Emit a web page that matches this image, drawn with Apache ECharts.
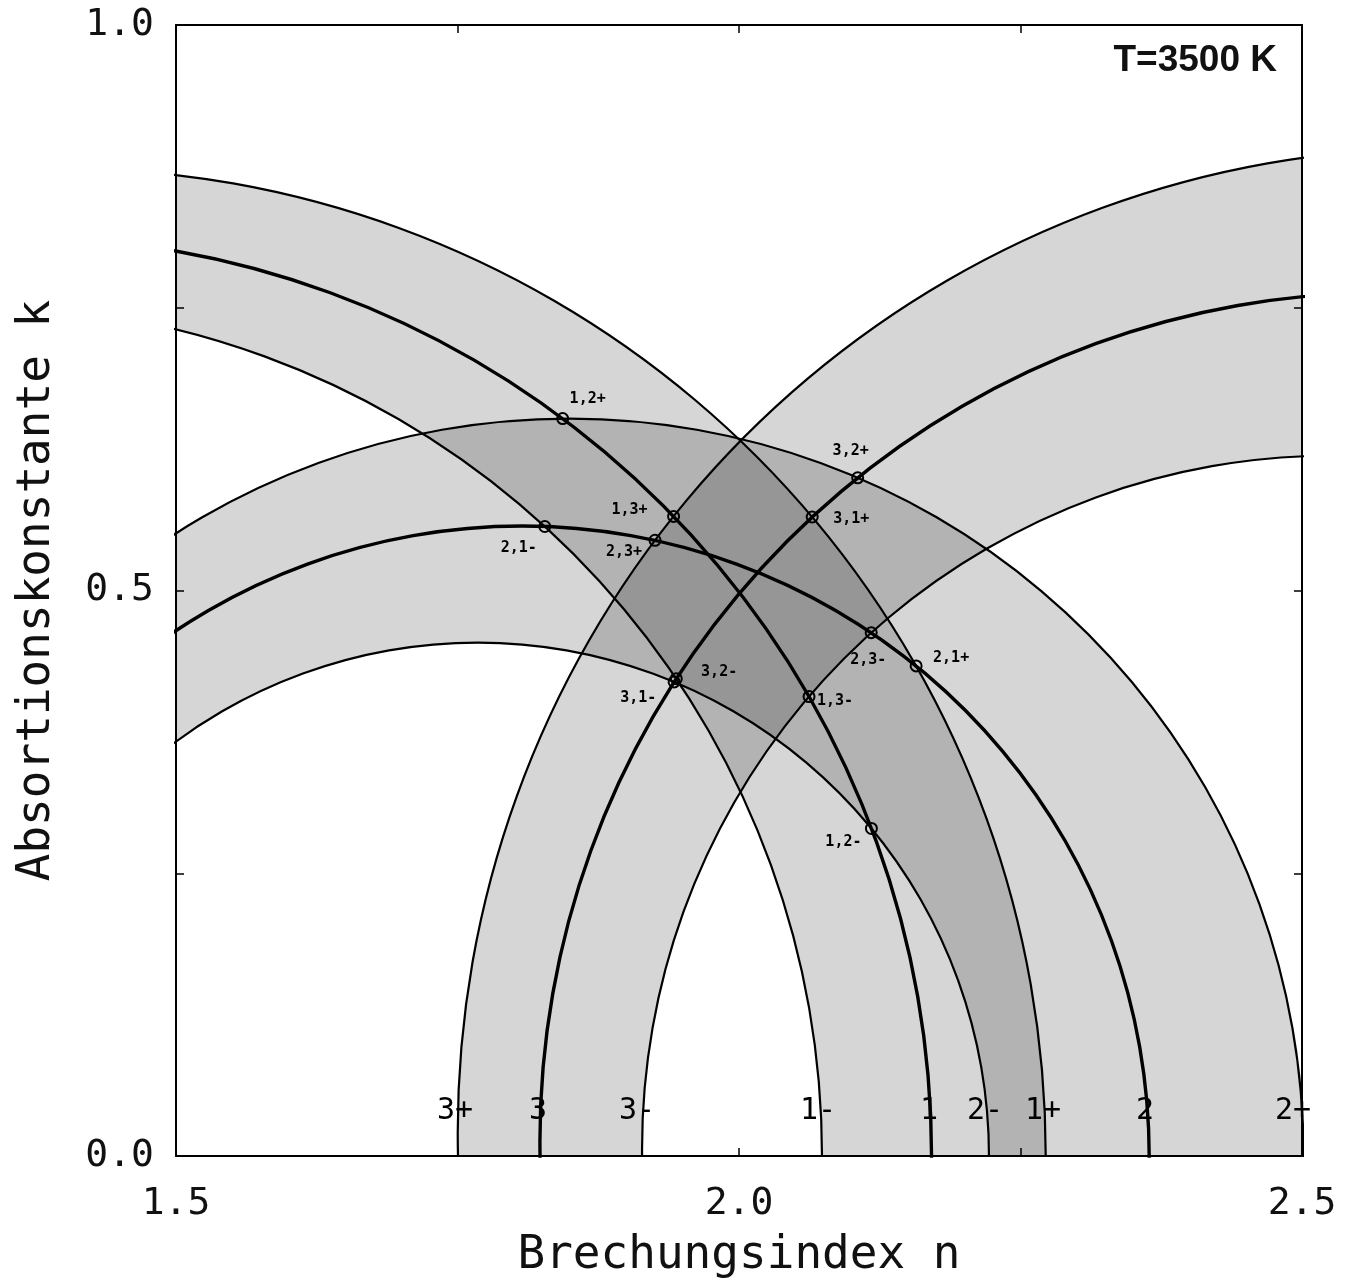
<!DOCTYPE html>
<html><head><meta charset="utf-8">
<script src="https://cdn.jsdelivr.net/npm/echarts/dist/echarts.min.js"></script>
<style>html,body{margin:0;padding:0;background:#fff}#c{width:1352px;height:1284px}</style>
</head><body><div id="c"></div>
<script>
// ---- curves: [n, k] points ----
const curve1m = [[2.0623,-0.1307],[2.0737,0],[2.0623,0.1307],[2.0283,0.2573],[1.9729,0.3762],[1.8977,0.4836],[1.8049,0.5764],[1.6975,0.6516],[1.5786,0.7070],[1.4520,0.7410],[1.3213,0.7524],[1.1906,0.7410]];
const curve1  = [[2.1587,-0.1411],[2.1710,0],[2.1587,0.1411],[2.1220,0.2779],[2.0622,0.4063],[1.9809,0.5223],[1.8808,0.6224],[1.7648,0.7037],[1.6364,0.7635],[1.4996,0.8002],[1.3585,0.8125],[1.2174,0.8002]];
const curve1p = [[2.2591,-0.1516],[2.2724,0],[2.2591,0.1516],[2.2197,0.2987],[2.1554,0.4366],[2.0681,0.5613],[1.9605,0.6689],[1.8358,0.7562],[1.6979,0.8205],[1.5508,0.8599],[1.3992,0.8732],[1.2476,0.8599]];

const curve2m = [[2.2151,-0.0788],[2.2220,0],[2.2151,0.0788],[2.1946,0.1553],[2.1612,0.2270],[2.1158,0.2918],[2.0598,0.3478],[1.9950,0.3932],[1.9233,0.4266],[1.8468,0.4471],[1.7680,0.4540],[1.6892,0.4471],[1.6127,0.4266],[1.5410,0.3932],[1.4762,0.3478],[1.4202,0.2918],[1.3748,0.2270]];
const curve2  = [[2.3558,-0.0967],[2.3643,0],[2.3558,0.0967],[2.3307,0.1905],[2.2897,0.2785],[2.2340,0.3580],[2.1653,0.4267],[2.0858,0.4824],[1.9978,0.5234],[1.9040,0.5485],[1.8073,0.5570],[1.7106,0.5485],[1.6168,0.5234],[1.5288,0.4824],[1.4493,0.4267],[1.3806,0.3580],[1.3249,0.2785]];
const curve2p = [[2.4915,-0.1132],[2.5014,0],[2.4915,0.1132],[2.4621,0.2230],[2.4141,0.3260],[2.3489,0.4191],[2.2685,0.4995],[2.1755,0.5647],[2.0724,0.6127],[1.9626,0.6421],[1.8494,0.6520],[1.7362,0.6421],[1.6264,0.6127],[1.5233,0.5647],[1.4303,0.4995],[1.3499,0.4191],[1.2847,0.3260]];

const curve3m = [[1.9508,-0.2028],[1.9232,-0.0997],[1.9139,0.0067],[1.9232,0.1131],[1.9508,0.2162],[1.9960,0.3130],[2.0572,0.4004],[2.1327,0.4759],[2.2202,0.5371],[2.3169,0.5823],[2.4200,0.6099],[2.5264,0.6192],[2.6328,0.6099]];
const curve3  = [[1.8684,-0.2431],[1.8346,-0.1168],[1.8232,0.0134],[1.8346,0.1436],[1.8684,0.2699],[1.9237,0.3884],[1.9987,0.4955],[2.0911,0.5879],[2.1982,0.6629],[2.3167,0.7182],[2.4430,0.7520],[2.5732,0.7634],[2.7034,0.7520]];
const curve3p = [[1.8027,-0.2769],[1.7634,-0.1304],[1.7502,0.0207],[1.7634,0.1718],[1.8027,0.3183],[1.8668,0.4558],[1.9538,0.5801],[2.0610,0.6873],[2.1853,0.7743],[2.3228,0.8384],[2.4693,0.8777],[2.6204,0.8909],[2.7715,0.8777]];

// intersection points
const pointNames = ['1,2+','1,3+','2,1-','2,3+','3,2+','3,1+','2,3-','2,1+','3,2-','3,1-','1,3-','1,2-'];
const pointN = [1.8434,1.9419,1.8275,1.9254,2.1054,2.0650,2.1174,2.1573,1.9424,1.9443,2.0622,2.1176];
const pointK = [0.6520,0.5655,0.5566,0.5444,0.5996,0.5650,0.4627,0.4333,0.4192,0.4220,0.4062,0.2896];

// curve labels near the n axis
const curveLabels = ['3+','3','3-','1-','1','2-','1+','2','2+'];
const curveLabelN = [1.7478,1.8215,1.9094,2.0702,2.1687,2.2185,2.2700,2.3606,2.4920];
const curveLabelK = 0.04;

const xTicks = [1.5, 2.0, 2.5];
const yTicks = [0.0, 0.5, 1.0];

// ---- styling (kept separate from data) ----
const labelOffsets = {
  '1,2+':[25,-19],'1,3+':[-44,-6],'2,1-':[-26,22],'2,3+':[-31,12],'3,2+':[-7,-27],'3,1+':[39,2],
  '2,3-':[-3,27],'2,1+':[35,-8],'3,2-':[45,-10],'3,1-':[-38,19],'1,3-':[26,5],'1,2-':[-28,14]
};
const MONO = 'DejaVu Sans Mono';
const bands = [
  {upper: curve1p, lower: curve1m},
  {upper: curve2p, lower: curve2m},
  {upper: curve3p, lower: curve3m}
];
const lines = [
  [curve1m,2.2],[curve1,3.4],[curve1p,2.2],
  [curve2m,2.2],[curve2,3.4],[curve2p,2.2],
  [curve3m,2.2],[curve3,3.4],[curve3p,2.2]
];
const SMOOTH = 0.335;

function tickFmt(list){
  return function(v){
    for (const t of list) if (Math.abs(v - t) < 1e-6) return t.toFixed(1);
    return '';
  };
}

const chart = echarts.init(document.getElementById('c'), null, {renderer:'canvas'});

const series = [];
series.push({
  type:'custom', coordinateSystem:'cartesian2d', silent:true, z:1,
  data: bands.map(() => [2.0, 0.5]),
  renderItem: function(params, api){
    const b = bands[params.dataIndex];
    const pts = b.upper.concat(b.lower.slice().reverse()).map(p => api.coord(p));
    const cs = params.coordSys;
    return {
      type:'group',
      clipPath:{type:'rect', shape:{x:cs.x, y:cs.y, width:cs.width, height:cs.height}},
      children:[{type:'polygon', shape:{points:pts, smooth:SMOOTH}, style:{fill:'rgba(0,0,0,0.16)', stroke:null}}]
    };
  }
});
lines.forEach(([d,w]) => {
  series.push({type:'line', data:d, smooth:SMOOTH, symbol:'none', clip:true, silent:true, z:3,
    lineStyle:{color:'#000', width:w}});
});
series.push({
  type:'scatter', z:5, silent:true,
  data: pointNames.map((nm,i) => ({name:nm, value:[pointN[i], pointK[i]], label:{offset:labelOffsets[nm]}})),
  symbol:'circle', symbolSize:11,
  itemStyle:{color:'rgba(0,0,0,0)', borderColor:'#000', borderWidth:2, opacity:1},
  label:{show:true, formatter:'{b}', position:'inside', fontFamily:MONO, fontSize:15, fontWeight:'bold', color:'#000'}
});
series.push({
  type:'scatter', z:6, silent:true,
  data: curveLabels.map((nm,i) => ({name:nm, value:[curveLabelN[i], curveLabelK]})),
  symbolSize:0,
  itemStyle:{opacity:1},
  label:{show:true, formatter:'{b}', position:'inside', fontFamily:MONO, fontSize:30, color:'#000'}
});

const axisCommon = {
  type:'value', axisLine:{show:true, onZero:false, lineStyle:{color:'#000', width:2}},
  axisTick:{show:true, inside:true, length:8, lineStyle:{color:'#000', width:1.5}},
  splitLine:{show:false}
};

const option = {
  animation:false,
  backgroundColor:'#fff',
  title:{text:'T=3500 K', right:70, top:37, textStyle:{fontFamily:'Liberation Sans', fontWeight:'bold', fontSize:37, color:'#111'}},
  grid:{left:176, right:50, top:25, bottom:127},
  xAxis:[
    Object.assign({}, axisCommon, {min:1.5, max:2.5, interval:0.25, position:'bottom',
      name:'Brechungsindex n', nameLocation:'middle', nameGap:77,
      nameTextStyle:{fontFamily:MONO, fontSize:46, color:'#111'},
      axisLabel:{formatter:tickFmt(xTicks), fontFamily:MONO, fontSize:38, color:'#111', margin:29}}),
    Object.assign({}, axisCommon, {min:1.5, max:2.5, interval:0.25, position:'top', axisLabel:{show:false}})
  ],
  yAxis:[
    Object.assign({}, axisCommon, {min:0, max:1, interval:0.25, position:'left',
      name:'Absortionskonstante k', nameLocation:'middle', nameGap:116,
      nameTextStyle:{fontFamily:MONO, fontSize:46, color:'#111'},
      axisLabel:{formatter:tickFmt(yTicks), fontFamily:MONO, fontSize:38, color:'#111', margin:22}}),
    Object.assign({}, axisCommon, {min:0, max:1, interval:0.25, position:'right', axisLabel:{show:false}})
  ],
  series: series
};
chart.setOption(option);
</script>
</body></html>
